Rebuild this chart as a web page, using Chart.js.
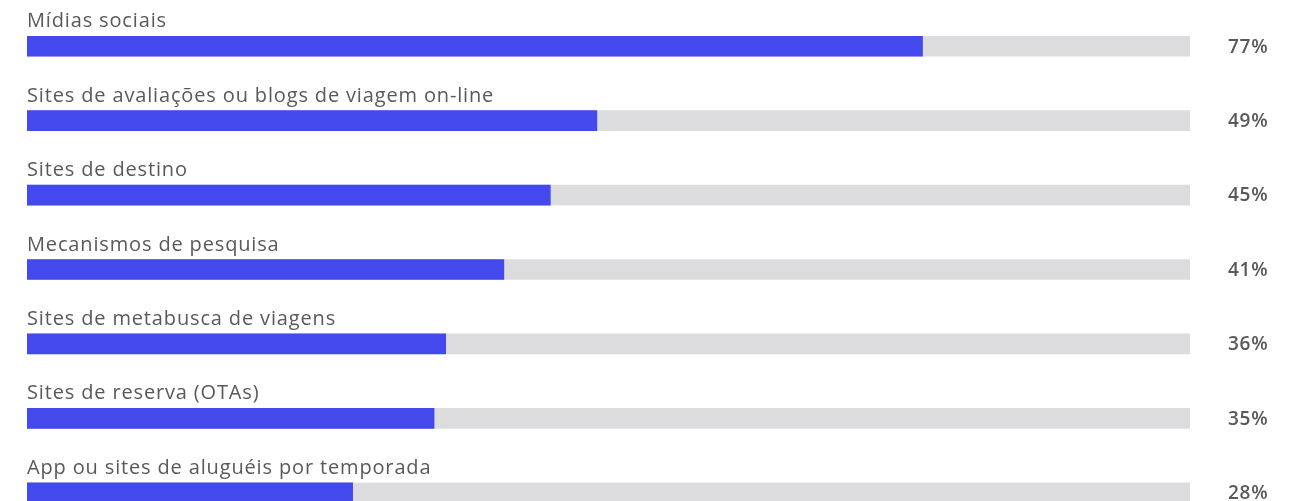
<!DOCTYPE html>
<html>
<head>
<meta charset="utf-8">
<script src="https://cdn.jsdelivr.net/npm/chart.js@4/dist/chart.umd.min.js"></script>
<style>
  html, body { margin: 0; padding: 0; background: #fff; overflow: hidden; }
  #wrap { width: 1300px; height: 530px; position: relative; }
</style>
</head>
<body>
<div id="wrap"><canvas id="chart"></canvas></div>
<script>
var categories = [
	"Mídias sociais",
	"Sites de avaliações ou blogs de viagem on-line",
	"Sites de destino",
	"Mecanismos de pesquisa",
	"Sites de metabusca de viagens",
	"Sites de reserva (OTAs)",
	"App ou sites de aluguéis por temporada"
];
var shares = [77, 49, 45, 41, 36, 35, 28];
var trackValues = [100, 100, 100, 100, 100, 100, 100];

var labelFont = '20px "Open Sans", sans-serif';
var valueFont = '600 19px "Open Sans", sans-serif';

// draws category text above each bar and the percentage on the right
var sideLabels = {
	id: 'sideLabels',
	afterDatasetsDraw: function(chart)
	{
		var ctx = chart.ctx;
		var area = chart.chartArea;
		var meta = chart.getDatasetMeta(0);
		ctx.save();
		ctx.fillStyle = '#595959';
		for (var i = 0; i < meta.data.length; i++)
		{
			var bar = meta.data[i];
			var top = bar.y - bar.height / 2;
			ctx.font = labelFont;
			ctx.letterSpacing = '0.85px';
			ctx.textAlign = 'left';
			ctx.textBaseline = 'alphabetic';
			ctx.fillText(categories[i], area.left, top - 9);
			ctx.font = valueFont;
			ctx.letterSpacing = '0.7px';
			ctx.textBaseline = 'middle';
			ctx.fillText(shares[i] + '%', area.right + 38, bar.y + 1);
		}
		ctx.restore();
	}
};

new Chart(document.getElementById('chart'), {
	type: 'bar',
	data: {
		labels: categories,
		datasets: [
			{
				data: shares,
				backgroundColor: '#4449ee',
				barThickness: 20,
				grouped: false
			},
			{
				data: trackValues,
				backgroundColor: '#dcdcde',
				barThickness: 20,
				grouped: false
			}
		]
	},
	options: {
		indexAxis: 'y',
		responsive: true,
		maintainAspectRatio: false,
		animation: false,
		layout: {
			padding: { left: 27, right: 110, top: 9, bottom: 0 }
		},
		scales: {
			x: { display: false, min: 0, max: 100 },
			y: { display: false }
		},
		plugins: {
			legend: { display: false },
			tooltip: { enabled: false }
		}
	},
	plugins: [sideLabels]
});
</script>
</body>
</html>
